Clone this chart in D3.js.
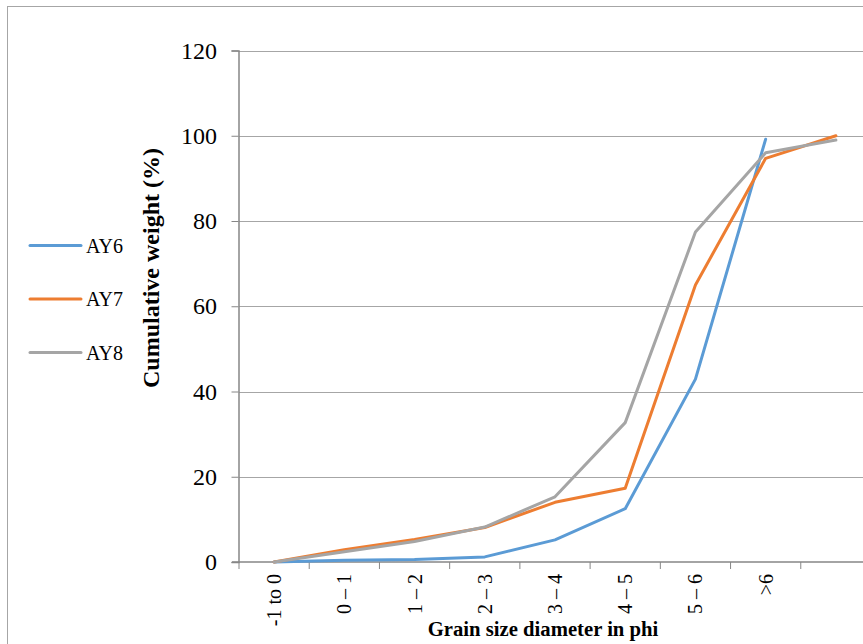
<!DOCTYPE html>
<html><head><meta charset="utf-8">
<script src="https://cdn.jsdelivr.net/npm/d3@7"></script>
<style>body{margin:0;background:#fff;} svg{display:block;} svg text{font-family:"Liberation Serif","Times New Roman",Times,"DejaVu Serif",serif;}</style>
</head><body>
<svg id="c" width="863" height="644"></svg>
<script>
const categories = ["-1 to 0", "0 – 1", "1 – 2", "2 – 3", "3 – 4", "4 – 5", "5 – 6", ">6", ""];
const seriesNames = ["AY6", "AY7", "AY8"];
const AY6 = [0, 0.4, 0.6, 1.2, 5.2, 12.5, 42.9, 99.2];
const AY7 = [0, 2.9, 5.3, 8.1, 14.0, 17.3, 65.0, 94.7, 100];
const AY8 = [0, 2.4, 4.8, 8.2, 15.3, 32.7, 77.4, 96.0, 99.0];
const colors = ["#5b9bd5", "#ed7d31", "#a5a5a5"];
const yTicks = [0, 20, 40, 60, 80, 100, 120];

const svg = d3.select("#c");
const pLeft = 239, pTop = 50.5, pBottom = 562, pRight = 871;

// chart border
svg.append("rect").attr("x", 7.5).attr("y", 6.5).attr("width", 900).attr("height", 700)
  .attr("fill", "none").attr("stroke", "#a6a6a6").attr("stroke-width", 1);

const x = d3.scaleBand().domain(categories).range([pLeft, pRight]);
const y = d3.scaleLinear().domain([0, 120]).range([pBottom, pTop]);

// gridlines
svg.append("g").selectAll("line").data(yTicks.filter(d => d > 0)).join("line")
  .attr("x1", pLeft).attr("x2", pRight)
  .attr("y1", d => Math.round(y(d)) + 0.5).attr("y2", d => Math.round(y(d)) + 0.5)
  .attr("stroke", "#a6a6a6").attr("stroke-width", 1);

// y axis
const yAxis = svg.append("g").attr("transform", `translate(${pLeft - 0.5},0)`)
  .call(d3.axisLeft(y).tickValues(yTicks).tickSize(7).tickPadding(14.5));
yAxis.attr("font-family", null);
yAxis.select(".domain").attr("stroke", "#868686").attr("stroke-width", 1.5);
yAxis.selectAll(".tick line").attr("stroke", "#868686");
yAxis.selectAll("text").attr("font-size", 24).attr("fill", "#000");

// x axis
const xAxis = svg.append("g").attr("transform", `translate(0,${pBottom})`)
  .call(d3.axisBottom(x).tickSize(0).tickPadding(0));
xAxis.attr("font-family", null);
xAxis.select(".domain").remove();
svg.append("line").attr("x1", pLeft - 7).attr("x2", pRight).attr("y1", pBottom).attr("y2", pBottom)
  .attr("stroke", "#868686").attr("stroke-width", 1.5);
svg.append("g").selectAll("line").data(categories).join("line")
  .attr("x1", d => x(d)).attr("x2", d => x(d)).attr("y1", pBottom).attr("y2", pBottom + 7)
  .attr("stroke", "#868686").attr("stroke-width", 1);
xAxis.selectAll(".tick text")
  .attr("font-size", 20).attr("fill", "#000")
  .attr("text-anchor", "end").attr("dy", "0.35em")
  .attr("transform", "translate(0,12) rotate(-90)");

// lines
const allSeries = [AY6, AY7, AY8];
const line = d3.line().x((d, i) => x(categories[i]) + x.bandwidth() / 2).y(d => y(d));
svg.append("g").selectAll("path").data(allSeries).join("path")
  .attr("d", d => line(d)).attr("fill", "none")
  .attr("stroke", (d, i) => colors[i]).attr("stroke-width", 3)
  .attr("stroke-linejoin", "round").attr("stroke-linecap", "round");

// axis titles
svg.append("text").attr("transform", "translate(159,268) rotate(-90)")
  .attr("text-anchor", "middle").attr("font-weight", "bold")
  .attr("font-size", 24).text("Cumulative weight (%)");
svg.append("text").attr("x", 543).attr("y", 636)
  .attr("text-anchor", "middle").attr("font-weight", "bold")
  .attr("font-size", 20.7).text("Grain size diameter in phi");

// legend
const lg = svg.append("g").selectAll("g").data(seriesNames).join("g")
  .attr("transform", (d, i) => `translate(30,${245.5 + i * 53.5})`);
lg.append("line").attr("x1", 0).attr("x2", 51).attr("y1", 0).attr("y2", 0)
  .attr("stroke", (d, i) => colors[i]).attr("stroke-width", 3).attr("stroke-linecap", "round");
lg.append("text").attr("x", 56).attr("y", 0).attr("dy", "0.35em")
  .attr("font-size", 20).text(d => d);
</script>
</body></html>
